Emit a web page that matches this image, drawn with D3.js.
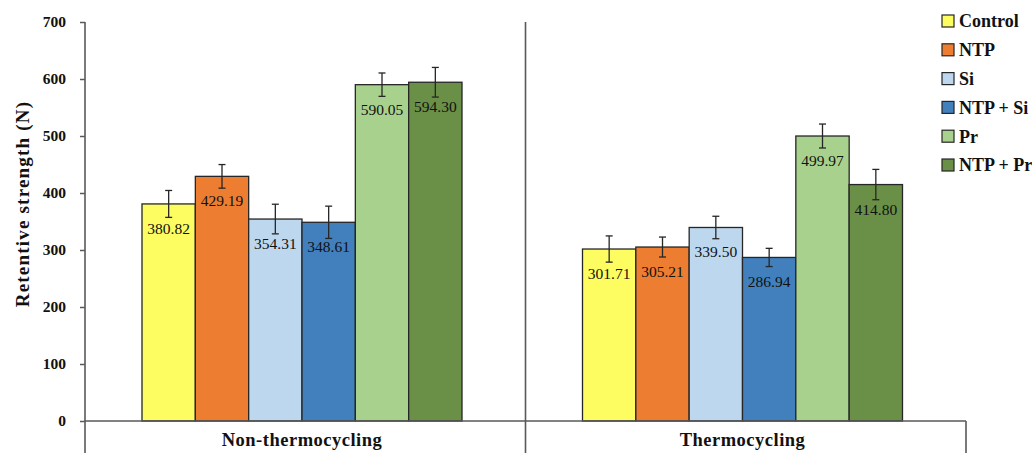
<!DOCTYPE html>
<html>
<head>
<meta charset="utf-8">
<script src="https://cdn.jsdelivr.net/npm/d3@7"></script>
<style>
  html, body { margin: 0; padding: 0; background: #fff; }
  svg { display: block; }
  text { font-family: "Liberation Serif", "DejaVu Serif", serif; fill: #111; }
</style>
</head>
<body>
<svg id="chart" width="1032" height="453"></svg>
<script>
// Retentive strength (N) by condition and treatment group
const conditions = ["Non-thermocycling", "Thermocycling"];
const groups = ["Control", "NTP", "Si", "NTP + Si", "Pr", "NTP + Pr"];
const meansNonThermo = [380.82, 429.19, 354.31, 348.61, 590.05, 594.30];
const meansThermo = [301.71, 305.21, 339.50, 286.94, 499.97, 414.80];
const sdNonThermo = [23.6, 20.7, 26.0, 28.3, 20.5, 26.0];
const sdThermo = [23.0, 17.5, 19.7, 16.0, 21.0, 26.6];
const yTicks = [0, 100, 200, 300, 400, 500, 600, 700];
const colors = ["#FDFD62", "#ED7D31", "#BDD7EE", "#4180BC", "#A9D18E", "#6A8F47"];

const rows = conditions.map((c, i) => ({
  condition: c,
  values: groups.map((g, j) => ({
    group: g,
    value: i === 0 ? meansNonThermo[j] : meansThermo[j],
    sd: i === 0 ? sdNonThermo[j] : sdThermo[j]
  }))
}));

const svg = d3.select("#chart");
const axisColor = "#595959";

const y = d3.scaleLinear().domain([0, 700]).range([421, 22]);
const x0 = d3.scaleBand().domain(conditions).range([85, 966]).paddingInner(0);
const x1 = d3.scaleBand().domain(groups).range([57, 377]).padding(0);

// y axis
const yAxis = d3.axisLeft(y).tickValues(yTicks).tickSize(5).tickPadding(14);
const gy = svg.append("g").attr("transform", "translate(85,0)").call(yAxis);
gy.select(".domain").remove();
gy.selectAll(".tick line").attr("stroke", axisColor).attr("stroke-width", 1.5);
gy.selectAll(".tick text")
  .attr("font-family", "Liberation Serif, serif")
  .attr("font-size", 15.5).attr("font-weight", "bold").attr("fill", "#111");

svg.append("line")
  .attr("x1", 85).attr("x2", 85).attr("y1", y(700)).attr("y2", 453)
  .attr("stroke", axisColor).attr("stroke-width", 1.6);

svg.append("text")
  .attr("transform", `translate(29,204) rotate(-90)`)
  .attr("text-anchor", "middle")
  .attr("font-size", 19).attr("font-weight", "bold")
  .attr("letter-spacing", 1.2)
  .text("Retentive strength (N)");

// bars
const groupG = svg.selectAll("g.cond").data(rows).join("g")
  .attr("class", "cond")
  .attr("transform", d => `translate(${x0(d.condition)},0)`);

groupG.selectAll("rect").data(d => d.values).join("rect")
  .attr("x", d => x1(d.group))
  .attr("y", d => y(d.value))
  .attr("width", x1.bandwidth())
  .attr("height", d => y(0) - y(d.value))
  .attr("fill", (d, i) => colors[i])
  .attr("stroke", "#262626").attr("stroke-width", 1.3);

// error bars
const eb = groupG.selectAll("g.err").data(d => d.values).join("g").attr("class", "err")
  .attr("stroke", "#262626").attr("stroke-width", 1.3);
eb.append("line")
  .attr("x1", d => x1(d.group) + x1.bandwidth() / 2)
  .attr("x2", d => x1(d.group) + x1.bandwidth() / 2)
  .attr("y1", d => y(d.value + d.sd))
  .attr("y2", d => y(d.value - d.sd));
eb.selectAll("line.cap").data(d => [[d, d.value + d.sd], [d, d.value - d.sd]]).join("line")
  .attr("class", "cap")
  .attr("x1", d => x1(d[0].group) + x1.bandwidth() / 2 - 3.5)
  .attr("x2", d => x1(d[0].group) + x1.bandwidth() / 2 + 3.5)
  .attr("y1", d => y(d[1]))
  .attr("y2", d => y(d[1]));

// value labels
groupG.selectAll("text.val").data(d => d.values).join("text")
  .attr("class", "val")
  .attr("x", d => x1(d.group) + x1.bandwidth() / 2)
  .attr("y", d => y(d.value) + 30)
  .attr("text-anchor", "middle")
  .attr("font-size", 15.5)
  .text(d => d.value.toFixed(2));

// x axis baseline and category separators
svg.append("line")
  .attr("x1", 85).attr("x2", 966).attr("y1", y(0)).attr("y2", y(0))
  .attr("stroke", axisColor).attr("stroke-width", 1.6);
svg.append("line")
  .attr("x1", x0(conditions[1])).attr("x2", x0(conditions[1]))
  .attr("y1", y(700)).attr("y2", 453)
  .attr("stroke", axisColor).attr("stroke-width", 1.6);
svg.append("line")
  .attr("x1", 966).attr("x2", 966).attr("y1", y(0)).attr("y2", 453)
  .attr("stroke", axisColor).attr("stroke-width", 1.6);

svg.selectAll("text.cat").data(conditions).join("text")
  .attr("class", "cat")
  .attr("x", d => x0(d) + 57 + 160)
  .attr("y", 446)
  .attr("text-anchor", "middle")
  .attr("font-size", 18.5).attr("font-weight", "bold")
  .attr("letter-spacing", 0.5)
  .text(d => d);

// legend
const lg = svg.append("g").attr("transform", "translate(942,21)");
const li = lg.selectAll("g").data(groups).join("g")
  .attr("transform", (d, i) => `translate(0,${i * 28.8})`);
li.append("rect")
  .attr("x", 0).attr("y", -6).attr("width", 12).attr("height", 12)
  .attr("fill", (d, i) => colors[i])
  .attr("stroke", "#262626").attr("stroke-width", 1.2);
li.append("text")
  .attr("x", 17).attr("y", 0).attr("dy", "0.35em")
  .attr("font-size", 18).attr("font-weight", "bold")
  .text(d => d);
</script>
</body>
</html>
